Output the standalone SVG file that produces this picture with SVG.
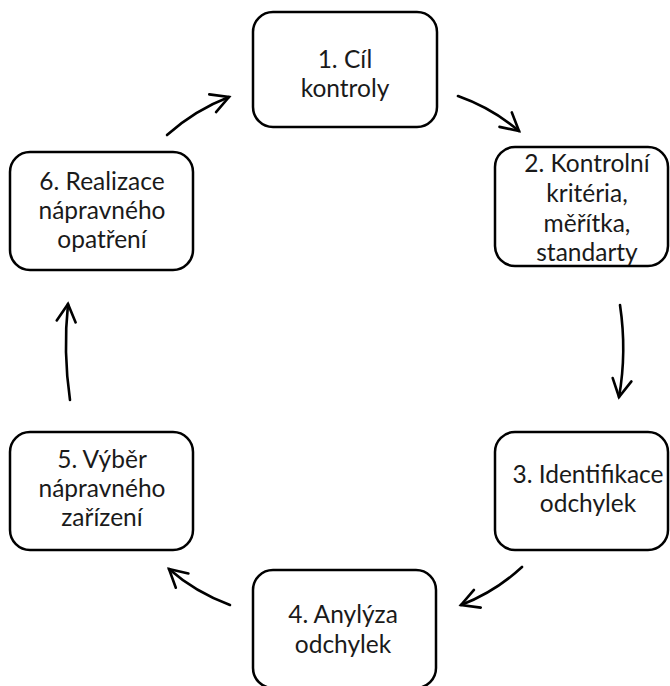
<svg xmlns="http://www.w3.org/2000/svg" width="670" height="686" viewBox="0 0 670 686">
<style>
.box{fill:#fff;stroke:#000;stroke-width:2.5}
.lbl{font-family:Lato,"Liberation Sans",sans-serif;font-size:24.5px;fill:#1a1a1a;text-anchor:middle}
.con{fill:none;stroke:#000;stroke-width:2.6;stroke-linecap:round}
</style>
<defs>
<marker id="ah" viewBox="-20 -12 24 24" refX="0" refY="0" markerWidth="24" markerHeight="24" markerUnits="userSpaceOnUse" orient="auto">
<path d="M-17.5,-9.5 L0,0 L-17.5,9.5" fill="none" stroke="#000" stroke-width="2.6" stroke-linecap="round" stroke-linejoin="miter"/>
</marker>
</defs>
<rect width="670" height="686" fill="#fff"/>
<g id="connectors">
<path class="con" marker-end="url(#ah)" d="M458,96 Q492,108 519,131"/>
<path class="con" marker-end="url(#ah)" d="M620,305 Q627,352 619,397"/>
<path class="con" marker-end="url(#ah)" d="M522,567 Q495,592 461,605"/>
<path class="con" marker-end="url(#ah)" d="M230,605 Q195,592 169,569"/>
<path class="con" marker-end="url(#ah)" d="M70,400 Q63,352 68,304"/>
<path class="con" marker-end="url(#ah)" d="M167,135 Q195,110 229,97"/>
</g>
<g id="node1">
<rect class="box" x="253" y="12" width="184" height="115" rx="20"/>
<text class="lbl" x="345" y="68">1. Cíl</text>
<text class="lbl" x="345" y="97">kontroly</text>
</g>
<g id="node2">
<rect class="box" x="495" y="147" width="173" height="119" rx="20"/>
<text class="lbl" x="587" y="172">2. Kontrolní</text>
<text class="lbl" x="587" y="202">kritéria,</text>
<text class="lbl" x="587" y="232">měřítka,</text>
<text class="lbl" x="587" y="261">standarty</text>
</g>
<g id="node3">
<rect class="box" x="495" y="432" width="173" height="118" rx="20"/>
<text class="lbl" x="588" y="483">3. Identifikace</text>
<text class="lbl" x="588" y="512">odchylek</text>
</g>
<g id="node4">
<rect class="box" x="253" y="570" width="183" height="118" rx="20"/>
<text class="lbl" x="343" y="623">4. Anylýza</text>
<text class="lbl" x="343" y="653">odchylek</text>
</g>
<g id="node5">
<rect class="box" x="10" y="432" width="183" height="118" rx="20"/>
<text class="lbl" x="102" y="468">5. Výběr</text>
<text class="lbl" x="102" y="497">nápravného</text>
<text class="lbl" x="102" y="526">zařízení</text>
</g>
<g id="node6">
<rect class="box" x="10" y="152" width="183" height="118" rx="20"/>
<text class="lbl" x="102" y="190">6. Realizace</text>
<text class="lbl" x="102" y="219">nápravného</text>
<text class="lbl" x="102" y="248">opatření</text>
</g>
</svg>
